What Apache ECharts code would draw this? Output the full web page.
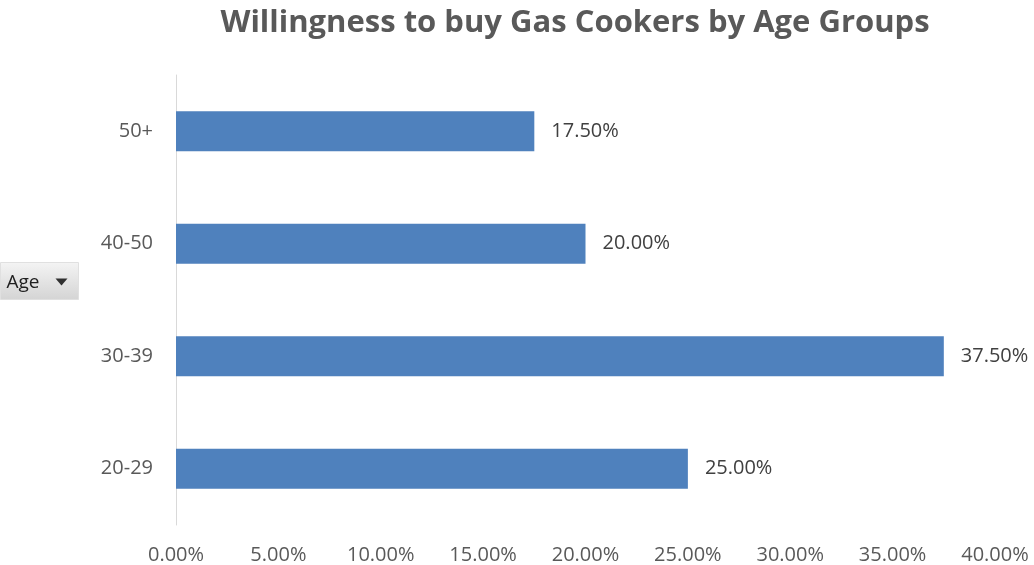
<!DOCTYPE html>
<html>
<head>
<meta charset="utf-8">
<script src="https://cdn.jsdelivr.net/npm/echarts@6/dist/echarts.min.js"></script>
<style>
  html, body { margin: 0; padding: 0; background: #fff; }
  #chart { width: 1034px; height: 565px; }
</style>
</head>
<body>
<div id="chart"></div>
<script>
// Age groups, bottom to top on the category axis
const ageGroups = ['20-29', '30-39', '40-50', '50+'];
// Share of respondents willing to buy a gas cooker (%)
const willingness = [25.0, 37.5, 20.0, 17.5];
// Value axis range and step (%)
const axisMin = 0;
const axisMax = 40;
const axisStep = 5;

const fontFamily = '"Open Sans", "Liberation Sans", sans-serif';
const chart = echarts.init(document.getElementById('chart'));

chart.setOption({
  animation: false,
  backgroundColor: '#ffffff',
  title: {
    text: 'Willingness to buy Gas Cookers by Age Groups',
    left: 570,
    top: 3,
    textAlign: 'center',
    textStyle: {
      fontFamily: fontFamily,
      fontWeight: 'bold',
      fontSize: 31,
      color: '#595959'
    }
  },
  grid: {
    left: 176,
    right: 39,
    top: 75,
    bottom: 40,
    containLabel: false
  },
  xAxis: {
    type: 'value',
    min: axisMin,
    max: axisMax,
    interval: axisStep,
    axisLine: { show: false },
    axisTick: { show: false },
    splitLine: { show: false },
    axisLabel: {
      margin: 20,
      fontFamily: fontFamily,
      fontSize: 20,
      color: '#595959',
      formatter: v => v.toFixed(2) + '%'
    }
  },
  yAxis: {
    type: 'category',
    data: ageGroups,
    axisLine: { show: true, lineStyle: { color: '#d9d9d9', width: 1 } },
    axisTick: { show: false },
    splitLine: { show: false },
    axisLabel: {
      margin: 23,
      fontFamily: fontFamily,
      fontSize: 20,
      color: '#595959'
    }
  },
  series: [{
    type: 'bar',
    data: willingness,
    barWidth: 40,
    itemStyle: { color: '#4f81bd' },
    label: {
      show: true,
      position: 'right',
      distance: 17,
      fontFamily: fontFamily,
      fontSize: 20,
      color: '#404040',
      formatter: p => p.value.toFixed(2) + '%'
    }
  }],
  graphic: [{
    // Field button for the "Age" axis field
    type: 'group',
    left: 0,
    top: 262,
    children: [{
      type: 'rect',
      shape: { x: 0, y: 0, width: 78, height: 37 },
      style: {
        fill: new echarts.graphic.LinearGradient(0, 0, 0, 1, [
          { offset: 0, color: '#f4f4f4' },
          { offset: 1, color: '#d4d4d4' }
        ]),
        stroke: '#e0e0e0',
        lineWidth: 1
      }
    }, {
      type: 'text',
      x: 6,
      y: 20,
      style: {
        text: 'Age',
        fontFamily: fontFamily,
        fontSize: 19,
        fill: '#202020',
        verticalAlign: 'middle'
      }
    }, {
      type: 'polygon',
      shape: { points: [[55, 16], [67, 16], [61, 23]] },
      style: { fill: '#303030' }
    }]
  }]
});
</script>
</body>
</html>
